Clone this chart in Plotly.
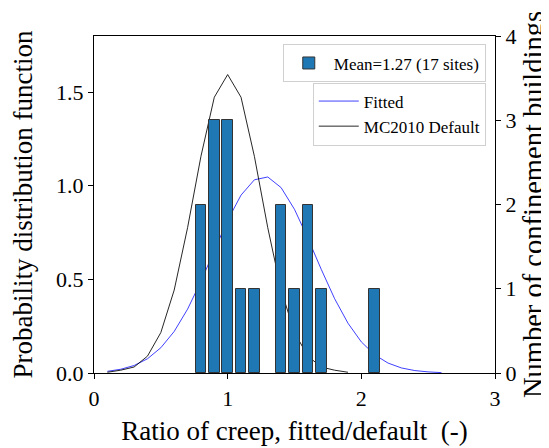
import plotly.graph_objects as go

# Histogram of fitted/default ratio (right axis: counts)
bar_x = [0.8, 0.9, 1.0, 1.1, 1.2, 1.4, 1.5, 1.6, 1.7, 2.1]
bar_counts = [2, 3, 3, 1, 1, 2, 1, 2, 1, 1]

# Fitted PDF (left axis)
fit_x = [0.1, 0.2, 0.3, 0.4, 0.5, 0.6, 0.7, 0.8, 0.9, 1.0, 1.1, 1.2, 1.3,
         1.4, 1.5, 1.6, 1.7, 1.8, 1.9, 2.0, 2.1, 2.2, 2.3, 2.4, 2.5, 2.6]
fit_pdf = [0.009, 0.020, 0.040, 0.076, 0.135, 0.222, 0.341, 0.489, 0.654,
           0.816, 0.950, 1.032, 1.047, 0.990, 0.874, 0.720, 0.554, 0.397,
           0.266, 0.166, 0.097, 0.053, 0.027, 0.013, 0.006, 0.002]

# MC2010 default PDF (left axis)
mc_x = [0.1, 0.2, 0.3, 0.4, 0.5, 0.6, 0.7, 0.8, 0.9, 1.0, 1.1, 1.2, 1.3,
        1.4, 1.5, 1.6, 1.7, 1.8, 1.9]
mc_pdf = [0.004, 0.015, 0.032, 0.090, 0.216, 0.443, 0.776, 1.157, 1.473,
          1.594, 1.473, 1.157, 0.776, 0.443, 0.216, 0.090, 0.032, 0.015,
          0.004]

x_ticks = [0, 1, 2, 3]
y_ticks = [0.0, 0.5, 1.0, 1.5]
y_tick_text = ["0.0", "0.5", "1.0", "1.5"]
y2_ticks = [0, 1, 2, 3, 4]

FONT = "Liberation Serif"

fig = go.Figure()

fig.add_trace(go.Scatter(
    x=fit_x, y=fit_pdf, mode="lines", name="Fitted",
    line=dict(color="rgba(0,0,255,0.75)", width=1), yaxis="y",
    legend="legend2"))
fig.add_trace(go.Scatter(
    x=mc_x, y=mc_pdf, mode="lines", name="MC2010 Default",
    line=dict(color="rgba(0,0,0,0.85)", width=1), yaxis="y",
    legend="legend2"))
fig.add_trace(go.Bar(
    x=bar_x, y=bar_counts, width=0.08, name="Mean=1.27 (17 sites)",
    marker=dict(color="#1f77b4", line=dict(color="#333333", width=1)),
    yaxis="y2", legend="legend"))

axis_common = dict(
    showline=True, linecolor="black", linewidth=1.2,
    ticks="outside", ticklen=5, tickwidth=1.2, tickcolor="black",
    showgrid=False, zeroline=False,
    tickfont=dict(family=FONT, size=22, color="black"),
)

fig.update_layout(
    width=541, height=440,
    margin=dict(l=86, r=54, t=28, b=75),
    paper_bgcolor="white", plot_bgcolor="white",
    font=dict(family=FONT, color="black"),
    showlegend=True,
    xaxis=dict(
        range=[0, 3], tickvals=x_ticks, mirror=True,
        title=dict(text="Ratio of creep, fitted/default  (-)",
                   font=dict(family=FONT, size=27), standoff=11),
        automargin=False, **axis_common),
    yaxis=dict(
        range=[0, 1.8], tickvals=y_ticks, ticktext=y_tick_text,
        title=dict(text="Probability distribution function",
                   font=dict(family=FONT, size=27), standoff=22),
        automargin=False, **axis_common),
    yaxis2=dict(
        range=[0, 4], tickvals=y2_ticks, overlaying="y", side="right",
        title=dict(text="Number of confinement buildings",
                   font=dict(family=FONT, size=28.5), standoff=10),
        automargin=False, **axis_common),
    legend=dict(
        x=0.977, y=0.975, xanchor="right", yanchor="top",
        bgcolor="rgba(255,255,255,0.8)", bordercolor="#d0d0d0",
        borderwidth=1, font=dict(family=FONT, size=17, color="black"),
        itemwidth=40),
    legend2=dict(
        x=0.977, y=0.862, xanchor="right", yanchor="top",
        bgcolor="rgba(255,255,255,0.8)", bordercolor="#d0d0d0",
        borderwidth=1, font=dict(family=FONT, size=17, color="black"),
        itemwidth=40, tracegroupgap=0),
    bargap=0,
)

fig.write_html("out.html")
